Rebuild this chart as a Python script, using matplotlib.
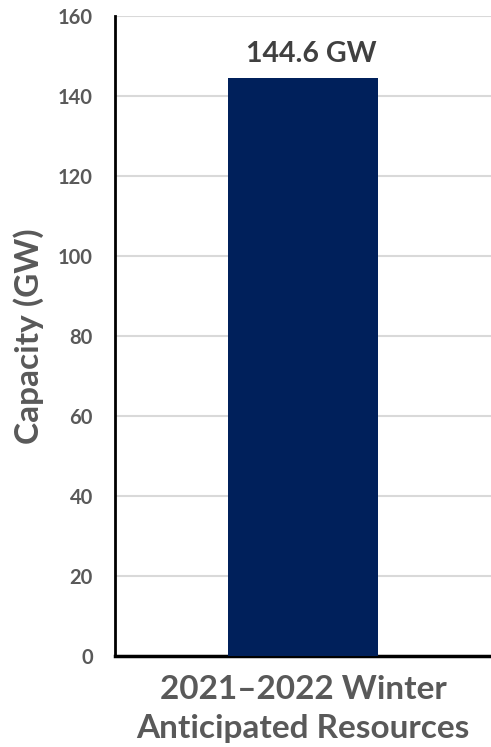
import matplotlib.pyplot as plt

categories = ["2021\u20132022 Winter\nAnticipated Resources"]
capacity_gw = [144.6]
value_labels = ["144.6 GW"]
y_ticks = [0, 20, 40, 60, 80, 100, 120, 140, 160]

NAVY = "#00205B"
GRAY = "#595959"
GRID = "#D9D9D9"

plt.rcParams["font.family"] = ["Lato", "DejaVu Sans"]

fig = plt.figure(figsize=(4.91, 7.47), dpi=100)
ax = fig.add_axes([115 / 491, 91 / 747, 376 / 491, 640 / 747])

x = range(len(categories))
bars = ax.bar(x, capacity_gw, width=0.4, color=NAVY, zorder=3)
for rect, lab in zip(bars, value_labels):
    ax.annotate(lab, (rect.get_x() + rect.get_width() / 2, rect.get_height()),
                textcoords="offset points", xytext=(6, 7.5),
                ha="center", va="bottom", fontsize=20.5, fontweight="bold", color="#404040")

ax.set_xlim(-0.5, 0.5)
ax.set_ylim(0, 160)
ax.set_yticks(y_ticks)
ax.set_xticks(list(x), categories)
ax.tick_params(axis="y", length=0, pad=16, labelsize=14.5, labelcolor=GRAY)
ax.tick_params(axis="x", length=0, pad=14, labelsize=24, labelcolor=GRAY)
for t in ax.get_yticklabels() + ax.get_xticklabels():
    t.set_fontweight("bold")
for t in ax.get_xticklabels():
    t.set_linespacing(1.38)

ax.set_ylabel("Capacity (GW)", fontsize=24, fontweight="bold", color=GRAY, labelpad=10)
ax.grid(axis="y", color=GRID, linewidth=1.5, zorder=0)
ax.set_axisbelow(True)
for side in ("top", "right"):
    ax.spines[side].set_visible(False)
ax.spines["left"].set_linewidth(2)
ax.spines["bottom"].set_linewidth(2.5)
ax.spines["left"].set_color("black")
ax.spines["bottom"].set_color("black")

fig.savefig("out.png", dpi=100)
